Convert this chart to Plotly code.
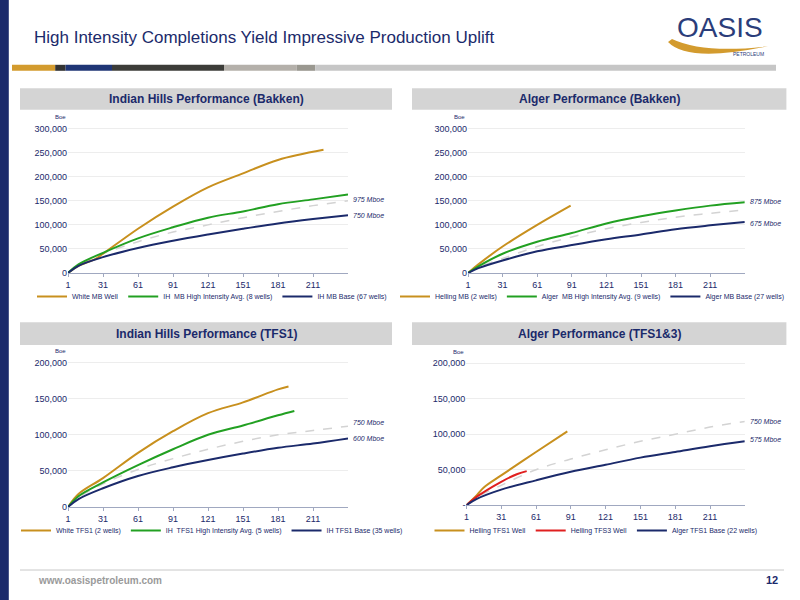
import plotly.graph_objects as go

ticks = [1, 31, 61, 91, 121, 151, 181, 211]

# Indian Hills Bakken
ihb_white_x = [1, 10, 25, 31, 61, 91, 121, 151, 181, 220]
ihb_white_y = [0, 15000, 30000, 40000, 92000, 138000, 178000, 207000, 235000, 256000]
ihb_hi_x = [1, 10, 31, 61, 91, 121, 151, 181, 211, 241]
ihb_hi_y = [0, 18000, 42000, 72000, 95000, 115000, 128000, 143000, 153000, 163000]
ihb_base_x = [1, 10, 31, 61, 91, 121, 151, 181, 211, 241]
ihb_base_y = [0, 15000, 33000, 52000, 67000, 80000, 92000, 103000, 112000, 120000]
ihb_tc_y = [0, 16000, 40000, 65000, 85000, 100000, 115000, 128000, 140000, 150000]

# Alger Bakken
alb_well_x = [1, 10, 31, 61, 90]
alb_well_y = [0, 18000, 55000, 100000, 140000]
alb_hi_x = [1, 10, 31, 61, 91, 121, 151, 181, 211, 241]
alb_hi_y = [0, 14000, 40000, 65000, 83000, 103000, 118000, 130000, 140000, 147000]
alb_base_y = [0, 10000, 26000, 45000, 58000, 70000, 80000, 91000, 99000, 106000]
alb_tc_y = [0, 12000, 30000, 55000, 75000, 92000, 105000, 116000, 124000, 131000]

# Indian Hills TFS1
iht_white_x = [1, 10, 31, 61, 91, 121, 151, 181, 190]
iht_white_y = [0, 18000, 40000, 75000, 105000, 130000, 145000, 163000, 167000]
iht_hi_x = [1, 10, 31, 61, 91, 121, 151, 181, 195]
iht_hi_y = [0, 15000, 34000, 58000, 80000, 100000, 113000, 127000, 133000]
iht_base_x = [1, 10, 31, 61, 91, 121, 151, 181, 211, 241]
iht_base_y = [0, 11000, 26000, 43000, 55000, 65000, 74000, 82000, 88000, 95000]
iht_tc_y = [0, 13000, 32000, 52000, 67000, 80000, 91000, 100000, 106000, 112000]

# Alger TFS1&3
alt_tfs1_x = [1, 10, 16, 31, 61, 88]
alt_tfs1_y = [0, 14000, 25000, 42000, 75000, 104000]
alt_tfs3_x = [1, 10, 31, 45, 53]
alt_tfs3_y = [0, 12000, 33000, 44000, 48000]
alt_base_x = [1, 10, 31, 61, 91, 121, 151, 181, 211, 241]
alt_base_y = [0, 9000, 22000, 35000, 47000, 57000, 67000, 75000, 83000, 90000]
alt_tc_y = [0, 11000, 28000, 50000, 65000, 78000, 90000, 100000, 110000, 118000]

GOLD, GREEN, NAVY, RED, TC = "#C8901E", "#22A022", "#1B2A6B", "#E02020", "#D3D3D3"

panels = [
    dict(title="Indian Hills Performance (Bakken)", xd=[0.085, 0.435], yd=[0.545, 0.788], ymax=300000,
         series=[(ihb_white_x, ihb_white_y, GOLD, "White MB Well"),
                 (ihb_hi_x, ihb_hi_y, GREEN, "IH  MB High Intensity Avg. (8 wells)"),
                 (ihb_base_x, ihb_base_y, NAVY, "IH MB Base (67 wells)")],
         tc=(ihb_base_x, ihb_tc_y), labels=[("975 Mboe", 153000), ("750 Mboe", 120000)],
         hx=[0.025, 0.49], hy=[0.817, 0.853], ly=0.53, lx=0.265),
    dict(title="Alger Performance (Bakken)", xd=[0.585, 0.931], yd=[0.545, 0.788], ymax=300000,
         series=[(alb_well_x, alb_well_y, GOLD, "Helling MB (2 wells)"),
                 (alb_hi_x, alb_hi_y, GREEN, "Alger  MB High Intensity Avg. (9 wells)"),
                 (alb_hi_x, alb_base_y, NAVY, "Alger MB Base (27 wells)")],
         tc=(alb_hi_x, alb_tc_y), labels=[("875 Mboe", 148000), ("675 Mboe", 103000)],
         hx=[0.515, 0.983], hy=[0.817, 0.853], ly=0.53, lx=0.74),
    dict(title="Indian Hills Performance (TFS1)", xd=[0.085, 0.435], yd=[0.155, 0.398], ymax=200000,
         series=[(iht_white_x, iht_white_y, GOLD, "White TFS1 (2 wells)"),
                 (iht_hi_x, iht_hi_y, GREEN, "IH  TFS1 High Intensity Avg. (5 wells)"),
                 (iht_base_x, iht_base_y, NAVY, "IH TFS1 Base (35 wells)")],
         tc=(iht_base_x, iht_tc_y), labels=[("750 Mboe", 117000), ("600 Mboe", 95000)],
         hx=[0.025, 0.49], hy=[0.425, 0.463], ly=0.14, lx=0.265),
    dict(title="Alger Performance (TFS1&3)", xd=[0.583, 0.931], yd=[0.158, 0.397], ymax=200000,
         series=[(alt_tfs1_x, alt_tfs1_y, GOLD, "Helling TFS1 Well"),
                 (alt_tfs3_x, alt_tfs3_y, RED, "Helling TFS3 Well"),
                 (alt_base_x, alt_base_y, NAVY, "Alger TFS1 Base (22 wells)")],
         tc=(alt_base_x, alt_tc_y), labels=[("750 Mboe", 118000), ("575 Mboe", 92000)],
         hx=[0.515, 0.983], hy=[0.425, 0.463], ly=0.14, lx=0.745),
]

fig = go.Figure()
shapes, annotations = [], []
font = "Liberation Sans, Arial, sans-serif"

for i, p in enumerate(panels):
    n = "" if i == 0 else str(i + 1)
    xa, ya, lg = "x" + n, "y" + n, "legend" + n
    fig.add_trace(go.Scatter(x=p["tc"][0], y=p["tc"][1], mode="lines", line=dict(color=TC, width=1.5, dash="dash", shape="spline"),
                             showlegend=False, xaxis=xa, yaxis=ya, hoverinfo="skip"))
    for sx, sy, c, name in p["series"]:
        fig.add_trace(go.Scatter(x=sx, y=sy, mode="lines", name=name, line=dict(color=c, width=2, shape="spline"),
                                 xaxis=xa, yaxis=ya, legend=lg))
    tickvals = list(range(0, p["ymax"] + 1, 50000))
    ticktext = [f"{v:,}" for v in tickvals]
    if i == 3:
        ticktext[0] = "-"
    fig.layout["xaxis" + n] = dict(domain=p["xd"], anchor=ya, range=[1, 241], tickvals=ticks, showgrid=False,
                                   showline=True, linecolor="#A0A8C0", ticks="outside", ticklen=3, tickcolor="#A0A8C0",
                                   tickfont=dict(size=9, color="#1B2A6B"), zeroline=False, fixedrange=True)
    fig.layout["yaxis" + n] = dict(domain=p["yd"], anchor=xa, range=[0, p["ymax"] * 1.01], tickvals=tickvals, ticktext=ticktext,
                                   showgrid=True, gridcolor="#EDEDED", zeroline=False,
                                   tickfont=dict(size=9, color="#1B2A6B"), fixedrange=True)
    fig.layout[lg] = dict(orientation="h", x=p["lx"], xanchor="center", y=p["ly"], yanchor="top",
                          font=dict(size=7, color="#1B2A6B"), bgcolor="rgba(0,0,0,0)", itemwidth=30)
    for text, yv in p["labels"]:
        annotations.append(dict(x=p["xd"][1] + 0.004, xref="paper", y=yv, yref=ya, text=f"<i>{text}</i>", showarrow=False,
                                xanchor="left", font=dict(size=7, color="#1B2A6B")))
    annotations.append(dict(x=p["xd"][0] - 0.01, y=p["yd"][1] + 0.008, xref="paper", yref="paper", text="Boe", showarrow=False,
                            xanchor="center", yanchor="bottom", font=dict(size=6, color="#1B2A6B")))
    shapes.append(dict(type="rect", xref="paper", yref="paper", x0=p["hx"][0], x1=p["hx"][1], y0=p["hy"][0], y1=p["hy"][1],
                       fillcolor="#D4D4D4", line=dict(width=0), layer="below"))
    annotations.append(dict(x=sum(p["hx"]) / 2, y=sum(p["hy"]) / 2, xref="paper", yref="paper", text=f"<b>{p['title']}</b>",
                            showarrow=False, xanchor="center", yanchor="middle",
                            font=dict(size=12, color="#1B2A6B", family="Liberation Sans Narrow, Arial Narrow, sans-serif")))

# slide decoration
shapes.append(dict(type="rect", xref="paper", yref="paper", x0=0, x1=0.011, y0=0, y1=1, fillcolor="#1B2A6B", line=dict(width=0)))
stripes = [(0.015, 0.069, "#D39B2E"), (0.069, 0.082, "#333333"), (0.082, 0.14, "#1F3575"), (0.14, 0.28, "#3C3C38"),
           (0.28, 0.371, "#B4B0AA"), (0.371, 0.394, "#9A9890"), (0.394, 0.97, "#C6C6C6")]
for a, b, c in stripes:
    shapes.append(dict(type="rect", xref="paper", yref="paper", x0=a, x1=b, y0=0.882, y1=0.892, fillcolor=c, line=dict(width=0)))
shapes.append(dict(type="line", xref="paper", yref="paper", x0=0.025, x1=0.98, y0=0.05, y1=0.05, line=dict(color="#C8C8C8", width=1)))
shapes.append(dict(type="path", xref="paper", yref="paper", path="M 0.835 0.93 Q 0.86 0.895 0.96 0.923 Q 0.88 0.91 0.84 0.935 Z",
                   fillcolor="#D39B2E", line=dict(width=0)))

annotations += [
    dict(x=0.04, y=0.937, xref="paper", yref="paper", text="High Intensity Completions Yield Impressive Production Uplift",
         showarrow=False, xanchor="left", yanchor="middle",
         font=dict(size=17, color="#1B2A6B", family="Liberation Sans Narrow, Arial Narrow, sans-serif")),
    dict(x=0.9, y=0.955, xref="paper", yref="paper", text="OASIS", showarrow=False, xanchor="center", yanchor="middle",
         font=dict(size=28, color="#2B3D7A", family="Liberation Sans Narrow, Arial Narrow, sans-serif")),
    dict(x=0.935, y=0.91, xref="paper", yref="paper", text="PETROLEUM", showarrow=False, xanchor="center", yanchor="middle",
         font=dict(size=5, color="#2B3D7A")),
    dict(x=0.045, y=0.033, xref="paper", yref="paper", text="<b>www.oasispetroleum.com</b>", showarrow=False,
         xanchor="left", yanchor="middle", font=dict(size=10, color="#9A9A9A")),
    dict(x=0.975, y=0.033, xref="paper", yref="paper", text="<b>12</b>", showarrow=False,
         xanchor="right", yanchor="middle", font=dict(size=11, color="#1B2A6B")),
]

fig.update_layout(width=800, height=600, margin=dict(l=0, r=0, t=0, b=0, autoexpand=False), plot_bgcolor="white",
                  paper_bgcolor="white", font=dict(family=font), shapes=shapes, annotations=annotations, hovermode=False)
fig.write_html("out.html", config={"displayModeBar": False}, post_script="document.body.style.margin='0';")
